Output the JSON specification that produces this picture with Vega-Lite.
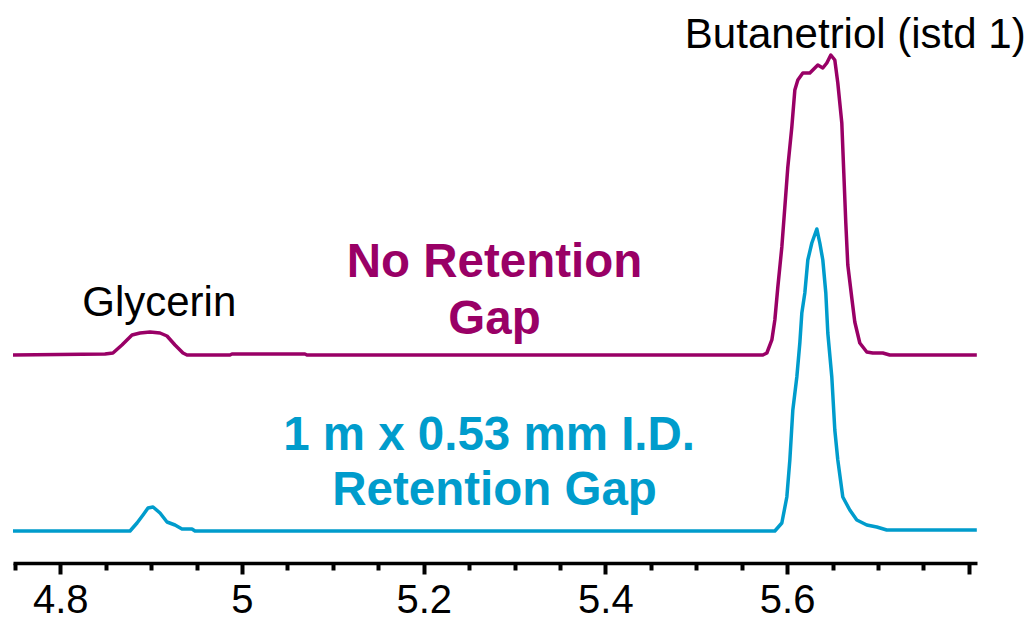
{
  "$schema": "https://vega.github.io/schema/vega-lite/v6.json",
  "autosize": {"type": "none"},
  "width": 964,
  "height": 563,
  "padding": {"left": 13, "top": 0, "right": 56, "bottom": 57},
  "background": "white",
  "config": {"view": {"stroke": null}, "font": "Liberation Sans"},
  "datasets": {
    "traces": [
      {"series": "No Retention Gap", "t": 4.748, "v": 36.94},
      {"series": "No Retention Gap", "t": 4.8492, "v": 37.12},
      {"series": "No Retention Gap", "t": 4.858, "v": 37.3},
      {"series": "No Retention Gap", "t": 4.8679, "v": 38.72},
      {"series": "No Retention Gap", "t": 4.879, "v": 40.5},
      {"series": "No Retention Gap", "t": 4.8878, "v": 40.85},
      {"series": "No Retention Gap", "t": 4.8988, "v": 41.03},
      {"series": "No Retention Gap", "t": 4.9098, "v": 40.85},
      {"series": "No Retention Gap", "t": 4.9175, "v": 40.32},
      {"series": "No Retention Gap", "t": 4.9263, "v": 38.72},
      {"series": "No Retention Gap", "t": 4.9351, "v": 37.3},
      {"series": "No Retention Gap", "t": 4.9395, "v": 36.94},
      {"series": "No Retention Gap", "t": 4.9868, "v": 36.94},
      {"series": "No Retention Gap", "t": 4.989, "v": 37.12},
      {"series": "No Retention Gap", "t": 5.0693, "v": 37.12},
      {"series": "No Retention Gap", "t": 5.0715, "v": 36.94},
      {"series": "No Retention Gap", "t": 5.5733, "v": 36.94},
      {"series": "No Retention Gap", "t": 5.5777, "v": 37.3},
      {"series": "No Retention Gap", "t": 5.5832, "v": 39.61},
      {"series": "No Retention Gap", "t": 5.5865, "v": 43.16},
      {"series": "No Retention Gap", "t": 5.5898, "v": 49.02},
      {"series": "No Retention Gap", "t": 5.5942, "v": 56.13},
      {"series": "No Retention Gap", "t": 5.5975, "v": 63.23},
      {"series": "No Retention Gap", "t": 5.6008, "v": 70.34},
      {"series": "No Retention Gap", "t": 5.6052, "v": 77.44},
      {"series": "No Retention Gap", "t": 5.6085, "v": 84.01},
      {"series": "No Retention Gap", "t": 5.6118, "v": 85.79},
      {"series": "No Retention Gap", "t": 5.6173, "v": 87.03},
      {"series": "No Retention Gap", "t": 5.625, "v": 87.03},
      {"series": "No Retention Gap", "t": 5.6338, "v": 88.45},
      {"series": "No Retention Gap", "t": 5.6393, "v": 87.92},
      {"series": "No Retention Gap", "t": 5.6437, "v": 88.81},
      {"series": "No Retention Gap", "t": 5.6481, "v": 90.23},
      {"series": "No Retention Gap", "t": 5.6525, "v": 89.34},
      {"series": "No Retention Gap", "t": 5.6558, "v": 85.26},
      {"series": "No Retention Gap", "t": 5.6602, "v": 78.15},
      {"series": "No Retention Gap", "t": 5.6624, "v": 69.27},
      {"series": "No Retention Gap", "t": 5.6646, "v": 60.39},
      {"series": "No Retention Gap", "t": 5.6668, "v": 52.93},
      {"series": "No Retention Gap", "t": 5.6712, "v": 47.07},
      {"series": "No Retention Gap", "t": 5.6745, "v": 42.81},
      {"series": "No Retention Gap", "t": 5.68, "v": 39.08},
      {"series": "No Retention Gap", "t": 5.6877, "v": 37.48},
      {"series": "No Retention Gap", "t": 5.6943, "v": 37.3},
      {"series": "No Retention Gap", "t": 5.7053, "v": 37.3},
      {"series": "No Retention Gap", "t": 5.713, "v": 36.94},
      {"series": "No Retention Gap", "t": 5.8088, "v": 36.94},
      {"series": "1 m x 0.53 mm I.D. Retention Gap", "t": 4.748, "v": 5.68},
      {"series": "1 m x 0.53 mm I.D. Retention Gap", "t": 4.8768, "v": 5.68},
      {"series": "1 m x 0.53 mm I.D. Retention Gap", "t": 4.8845, "v": 7.1},
      {"series": "1 m x 0.53 mm I.D. Retention Gap", "t": 4.8911, "v": 8.53},
      {"series": "1 m x 0.53 mm I.D. Retention Gap", "t": 4.8966, "v": 9.77},
      {"series": "1 m x 0.53 mm I.D. Retention Gap", "t": 4.9021, "v": 9.95},
      {"series": "1 m x 0.53 mm I.D. Retention Gap", "t": 4.9098, "v": 8.88},
      {"series": "1 m x 0.53 mm I.D. Retention Gap", "t": 4.9175, "v": 7.28},
      {"series": "1 m x 0.53 mm I.D. Retention Gap", "t": 4.9263, "v": 6.75},
      {"series": "1 m x 0.53 mm I.D. Retention Gap", "t": 4.934, "v": 6.04},
      {"series": "1 m x 0.53 mm I.D. Retention Gap", "t": 4.945, "v": 6.04},
      {"series": "1 m x 0.53 mm I.D. Retention Gap", "t": 4.9483, "v": 5.68},
      {"series": "1 m x 0.53 mm I.D. Retention Gap", "t": 5.5865, "v": 5.68},
      {"series": "1 m x 0.53 mm I.D. Retention Gap", "t": 5.5942, "v": 7.1},
      {"series": "1 m x 0.53 mm I.D. Retention Gap", "t": 5.5997, "v": 11.72},
      {"series": "1 m x 0.53 mm I.D. Retention Gap", "t": 5.603, "v": 18.29},
      {"series": "1 m x 0.53 mm I.D. Retention Gap", "t": 5.6063, "v": 27.18},
      {"series": "1 m x 0.53 mm I.D. Retention Gap", "t": 5.6107, "v": 33.04},
      {"series": "1 m x 0.53 mm I.D. Retention Gap", "t": 5.614, "v": 39.08},
      {"series": "1 m x 0.53 mm I.D. Retention Gap", "t": 5.6162, "v": 44.4},
      {"series": "1 m x 0.53 mm I.D. Retention Gap", "t": 5.6195, "v": 47.96},
      {"series": "1 m x 0.53 mm I.D. Retention Gap", "t": 5.6228, "v": 53.82},
      {"series": "1 m x 0.53 mm I.D. Retention Gap", "t": 5.6272, "v": 56.84},
      {"series": "1 m x 0.53 mm I.D. Retention Gap", "t": 5.6327, "v": 59.33},
      {"series": "1 m x 0.53 mm I.D. Retention Gap", "t": 5.636, "v": 56.84},
      {"series": "1 m x 0.53 mm I.D. Retention Gap", "t": 5.6393, "v": 53.82},
      {"series": "1 m x 0.53 mm I.D. Retention Gap", "t": 5.6426, "v": 47.96},
      {"series": "1 m x 0.53 mm I.D. Retention Gap", "t": 5.6448, "v": 40.85},
      {"series": "1 m x 0.53 mm I.D. Retention Gap", "t": 5.6492, "v": 33.04},
      {"series": "1 m x 0.53 mm I.D. Retention Gap", "t": 5.6525, "v": 23.62},
      {"series": "1 m x 0.53 mm I.D. Retention Gap", "t": 5.6558, "v": 18.29},
      {"series": "1 m x 0.53 mm I.D. Retention Gap", "t": 5.6613, "v": 11.72},
      {"series": "1 m x 0.53 mm I.D. Retention Gap", "t": 5.669, "v": 9.41},
      {"series": "1 m x 0.53 mm I.D. Retention Gap", "t": 5.6767, "v": 7.64},
      {"series": "1 m x 0.53 mm I.D. Retention Gap", "t": 5.6877, "v": 6.75},
      {"series": "1 m x 0.53 mm I.D. Retention Gap", "t": 5.6987, "v": 6.39},
      {"series": "1 m x 0.53 mm I.D. Retention Gap", "t": 5.7097, "v": 5.86},
      {"series": "1 m x 0.53 mm I.D. Retention Gap", "t": 5.724, "v": 5.86},
      {"series": "1 m x 0.53 mm I.D. Retention Gap", "t": 5.8088, "v": 5.86}
    ],
    "peaks": [
      {"label": "Butanetriol (istd 1)", "t": 5.675, "v": 91.5},
      {"label": "Glycerin", "t": 4.909, "v": 43.9}
    ],
    "names": [
      {"series": "No Retention Gap", "label": "No Retention", "t": 5.278, "v": 50.8},
      {"series": "No Retention Gap", "label": "Gap", "t": 5.278, "v": 40.7},
      {"series": "1 m x 0.53 mm I.D. Retention Gap", "label": "1 m x 0.53 mm I.D.", "t": 5.272, "v": 20.1},
      {"series": "1 m x 0.53 mm I.D. Retention Gap", "label": "Retention Gap", "t": 5.278, "v": 10.3}
    ]
  },
  "encoding": {
    "x": {
      "field": "t",
      "type": "quantitative",
      "scale": {"domain": [4.748, 5.809], "nice": false, "zero": false},
      "axis": {
        "values": [4.75, 4.8, 4.85, 4.9, 4.95, 5, 5.05, 5.1, 5.15, 5.2, 5.25, 5.3, 5.35, 5.4, 5.45, 5.5, 5.55, 5.6, 5.65, 5.7, 5.75, 5.8],
        "title": null,
        "grid": false,
        "domainColor": "black",
        "domainWidth": 3.5,
        "tickColor": "black",
        "tickWidth": 4,
        "tickSize": {"condition": {"test": "abs(datum.value*5 - round(datum.value*5)) < 0.001", "value": 11}, "value": 7},
        "labelExpr": "abs(datum.value*5 - round(datum.value*5)) < 0.001 && datum.value < 5.7 ? format(datum.value, '~g') : ''",
        "labelFont": "Liberation Sans",
        "labelFontSize": 40,
        "labelColor": "black",
        "labelPadding": 6,
        "labelFlush": false,
        "labelOverlap": false
      }
    },
    "y": {
      "field": "v",
      "type": "quantitative",
      "scale": {"domain": [0, 100], "nice": false, "zero": false},
      "axis": null
    }
  },
  "layer": [
    {
      "data": {"name": "traces"},
      "mark": {"type": "line", "strokeWidth": 3.5, "interpolate": "linear", "strokeJoin": "round"},
      "encoding": {
        "color": {
          "field": "series",
          "type": "nominal",
          "scale": {"domain": ["No Retention Gap", "1 m x 0.53 mm I.D. Retention Gap"], "range": ["#990066", "#009CCC"]},
          "legend": null
        }
      }
    },
    {
      "data": {"name": "peaks"},
      "mark": {"type": "text", "font": "Liberation Sans", "fontSize": 42, "color": "black", "align": "center", "baseline": "alphabetic"},
      "encoding": {"text": {"field": "label"}}
    },
    {
      "data": {"name": "names"},
      "mark": {"type": "text", "font": "Liberation Sans", "fontSize": 47.5, "fontWeight": "bold", "align": "center", "baseline": "alphabetic"},
      "encoding": {
        "text": {"field": "label"},
        "color": {"field": "series", "type": "nominal", "legend": null}
      }
    }
  ]
}
